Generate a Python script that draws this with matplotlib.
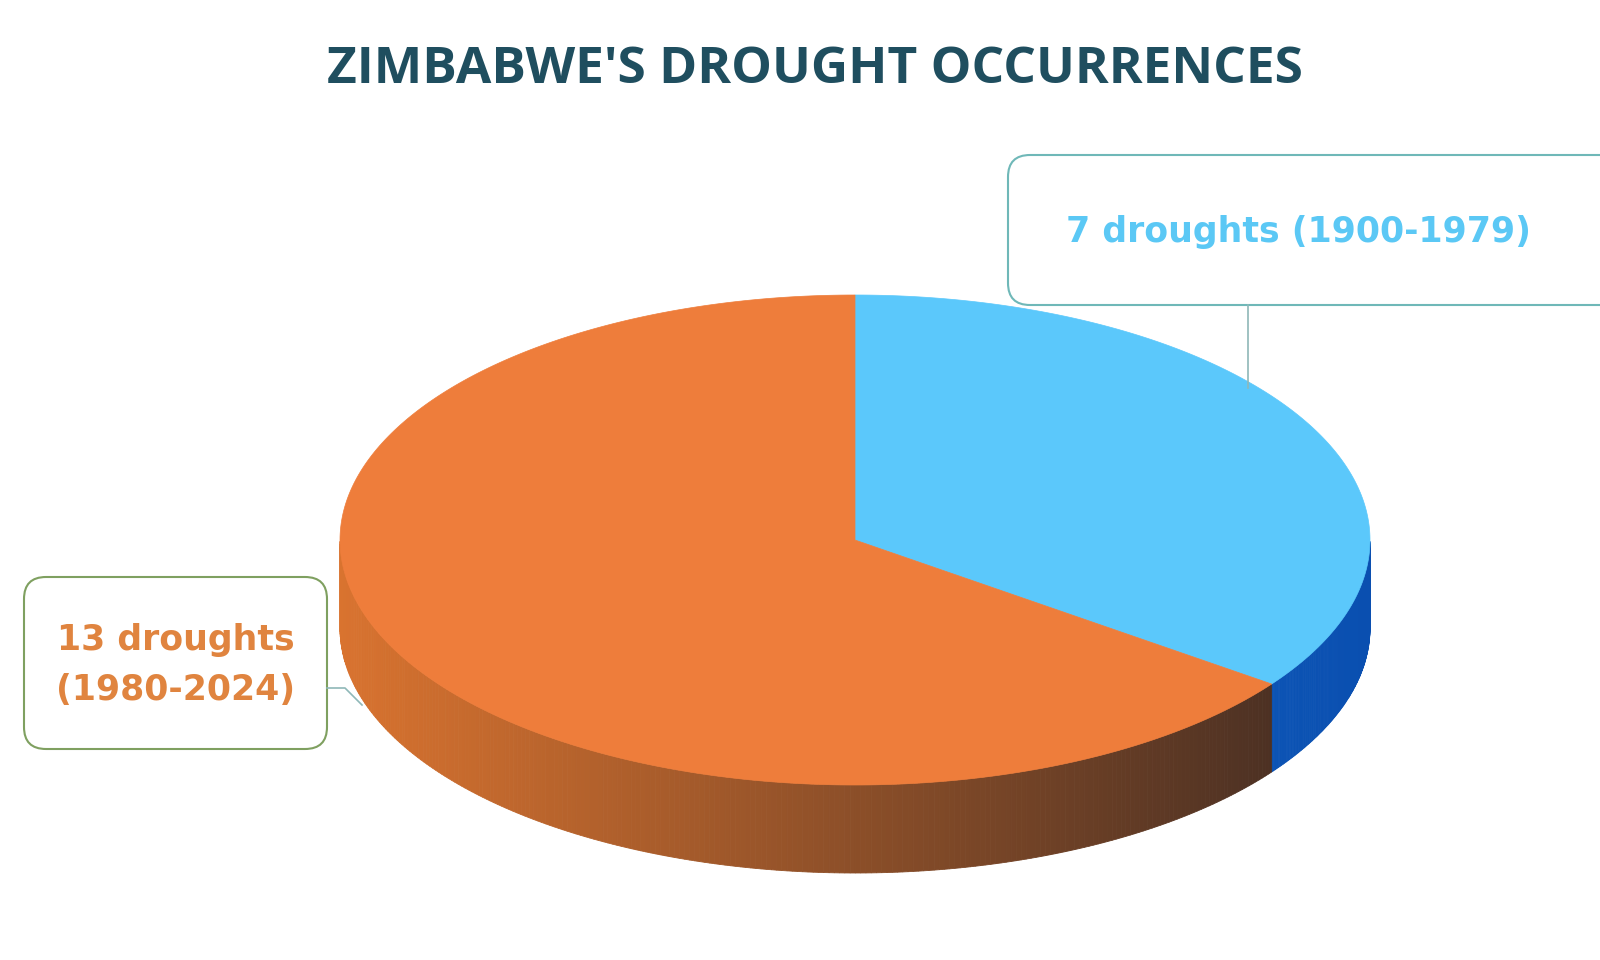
import numpy as np
import matplotlib
matplotlib.use("Agg")
import matplotlib.pyplot as plt
from matplotlib.patches import Polygon, FancyBboxPatch
from matplotlib.colors import to_rgb

labels = ["7 droughts (1900-1979)", "13 droughts\n(1980-2024)"]
values = [7, 13]
top_colors = ["#5BC8FB", "#EE7D3B"]
side_colors = [("#1E7FE0", "#0A4FB0"), ("#D9732F", "#3E2A22")]
title = "ZIMBABWE'S DROUGHT OCCURRENCES"

fig = plt.figure(figsize=(16, 9.6), dpi=100)
ax = fig.add_axes([0, 0, 1, 1])
ax.set_xlim(0, 1600); ax.set_ylim(960, 0); ax.axis("off")

cx, cy, rx, ry, depth = 855, 540, 515, 245, 88
total = sum(values)
start = 90.0
spans = []
for v in values:
    span = v / total * 360
    spans.append((start - span, start))
    start -= span

def pt(a, dy=0):
    r = np.radians(a)
    return cx + rx * np.cos(r), cy - ry * np.sin(r) + dy

for (a0, a1), (c0, c1) in zip(spans, side_colors):
    angs = np.linspace(a0, a1, 400)
    for i in range(len(angs) - 1):
        aa, bb = angs[i] % 360, angs[i + 1] % 360
        if not (180 <= aa <= 360 and 180 <= bb <= 360):
            continue
        p1, p2 = pt(aa), pt(bb)
        t = (p1[0] - (cx - rx)) / (2 * rx)
        col = np.array(to_rgb(c0)) * (1 - t) + np.array(to_rgb(c1)) * t
        ax.add_patch(Polygon([p1, p2, (p2[0], p2[1] + depth), (p1[0], p1[1] + depth)],
                             closed=True, fc=col, ec=col, lw=0.6, zorder=1))

for (a0, a1), c in zip(spans, top_colors):
    angs = np.linspace(a0, a1, 300)
    pts = [(cx, cy)] + [pt(a) for a in angs]
    ax.add_patch(Polygon(pts, closed=True, fc=c, ec=c, lw=0.5, zorder=2))

ax.text(815, 70, title, ha="center", va="center", fontsize=37, fontweight="bold",
        color="#1F4E5F", family="Open Sans")

ax.add_patch(FancyBboxPatch((1008, 155), 620, 150, boxstyle="round,pad=0,rounding_size=22",
                            fc="white", ec="#6FB8B8", lw=1.5, zorder=3))
ax.text(1298, 232, labels[0], ha="center", va="center", fontsize=25, fontweight="bold",
        color="#5BC8F5", zorder=4)
ax.plot([1248, 1248], [305, 388], color="#8FB8B8", lw=1.2, zorder=3)

ax.add_patch(FancyBboxPatch((24, 577), 303, 172, boxstyle="round,pad=0,rounding_size=22",
                            fc="white", ec="#7FA060", lw=1.5, zorder=3))
ax.text(176, 665, labels[1], ha="center", va="center", fontsize=25, fontweight="bold",
        color="#E0843F", linespacing=1.6, zorder=4)
ax.plot([327, 345, 362], [688, 688, 705], color="#8FB8B8", lw=1.2, zorder=3)

fig.savefig("out.png", dpi=100, facecolor="white")
